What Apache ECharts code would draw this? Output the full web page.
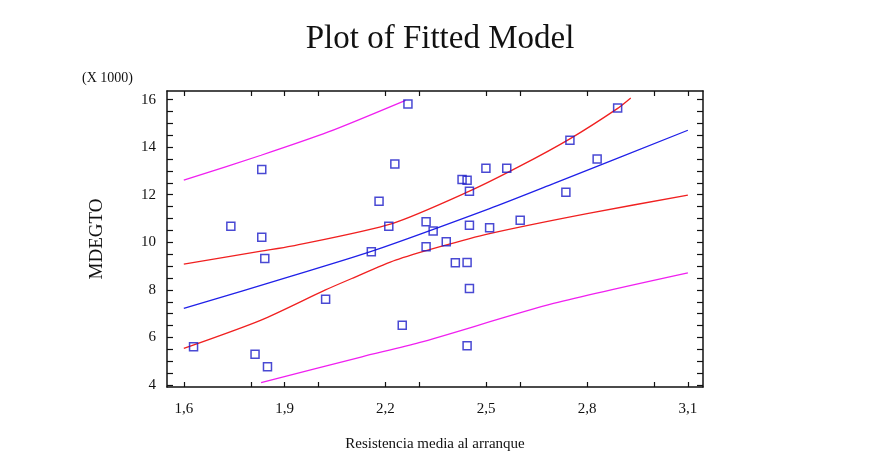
<!DOCTYPE html>
<html>
<head>
<meta charset="utf-8">
<script src="https://cdn.jsdelivr.net/npm/echarts@6/dist/echarts.min.js"></script>
<style>
html, body { margin: 0; padding: 0; background: #fff; }
#chart { width: 873px; height: 459px; }
</style>
</head>
<body>
<div id="chart"></div>
<script>
// observed points (MDEGTO in thousands)
var resistencia = [1.629, 1.740, 1.812, 1.832, 1.832, 1.841, 1.849, 2.022, 2.158, 2.181, 2.210, 2.228,
    2.250, 2.267, 2.321, 2.342, 2.321, 2.381, 2.408, 2.443, 2.450, 2.443, 2.428, 2.443, 2.450, 2.450,
    2.499, 2.510, 2.561, 2.601, 2.737, 2.749, 2.830, 2.891];
var mdegto = [5.61, 10.68, 5.30, 13.06, 10.21, 9.32, 4.77, 7.61, 9.60, 11.73, 10.68, 13.29,
    6.52, 15.81, 10.86, 10.48, 9.81, 10.02, 9.14, 9.15, 8.06, 5.65, 12.64, 12.61, 12.15, 10.72,
    13.11, 10.61, 13.11, 10.93, 12.10, 14.29, 13.50, 15.65];

// curves
var fitLine = [[1.60, 7.22], [1.92, 8.58], [2.16, 9.63], [2.51, 11.42], [2.70, 12.47], [3.10, 14.71]];
var confUpper = [[1.60, 9.08], [1.83, 9.63], [1.92, 9.84], [2.22, 10.79], [2.45, 12.15], [2.60, 13.20], [2.75, 14.36], [2.89, 15.62], [2.93, 16.07]];
var confLower = [[1.60, 5.54], [1.83, 6.73], [2.02, 7.99], [2.10, 8.48], [2.23, 9.25], [2.36, 9.81], [2.51, 10.37], [2.80, 11.21], [3.10, 11.98]];
var predUpper = [[1.60, 12.61], [1.83, 13.66], [2.03, 14.64], [2.26, 15.97]];
var predLower = [[1.83, 4.10], [2.13, 5.19], [2.30, 5.78], [2.70, 7.43], [3.10, 8.72]];

var xLabels = [1.6, 1.9, 2.2, 2.5, 2.8, 3.1];
var xTicks = [1.6, 1.8, 1.9, 2.0, 2.2, 2.3, 2.5, 2.6, 2.8, 3.0, 3.1];
var yLabels = [4, 6, 8, 10, 12, 14, 16];
var yTicks = [4, 4.5, 5, 5.5, 6, 6.5, 7, 7.5, 8, 8.5, 9, 9.5, 10, 10.5, 11, 11.5, 12, 12.5, 13, 13.5,
    14, 14.5, 15, 15.5, 16];

var points = [];
for (var i = 0; i < resistencia.length; i++) {
    points.push([resistencia[i], mdegto[i]]);
}

var font = '"Liberation Serif", "DejaVu Serif", serif';
var mychart = echarts.init(document.getElementById('chart'));

function lineSeries(data, color) {
    return {
        type: 'line',
        data: data,
        smooth: 0.25,
        showSymbol: false,
        silent: true,
        lineStyle: { color: color, width: 1.3 },
        z: 2
    };
}

function xAxisDef(pos, labels) {
    return {
        type: 'value',
        position: pos,
        min: 1.55,
        max: 3.145,
        splitLine: { show: false },
        axisLine: { show: true, onZero: false, lineStyle: { color: '#111', width: 1.5 } },
        axisTick: { show: true, inside: true, length: 5, customValues: xTicks, lineStyle: { color: '#111', width: 1.2 } },
        axisLabel: {
            show: labels,
            customValues: xLabels,
            margin: 15,
            color: '#111',
            fontFamily: font,
            fontSize: 15,
            formatter: function (v) { return v.toFixed(1).replace('.', ','); }
        },
        name: labels ? 'Resistencia media al arranque' : '',
        nameLocation: 'middle',
        nameGap: 50,
        nameTextStyle: { color: '#111', fontFamily: font, fontSize: 15 }
    };
}

function yAxisDef(pos, labels) {
    return {
        type: 'value',
        position: pos,
        min: 3.92,
        max: 16.36,
        splitLine: { show: false },
        axisLine: { show: true, onZero: false, lineStyle: { color: '#111', width: 1.5 } },
        axisTick: { show: true, inside: true, length: 6, customValues: yTicks, lineStyle: { color: '#111', width: 1.2 } },
        axisLabel: {
            show: labels,
            customValues: yLabels,
            margin: 11,
            color: '#111',
            fontFamily: font,
            fontSize: 15
        },
        name: labels ? 'MDEGTO' : '',
        nameLocation: 'middle',
        nameGap: 60,
        nameTextStyle: { color: '#111', fontFamily: font, fontSize: 19 }
    };
}

var option = {
    backgroundColor: '#fff',
    animation: false,
    title: [{
        text: 'Plot of Fitted Model',
        left: 435,
        top: 18,
        textAlign: 'center',
        textStyle: { color: '#111', fontFamily: font, fontSize: 33, fontWeight: 'normal' }
    }, {
        text: '(X 1000)',
        left: 77,
        top: 66,
        textStyle: { color: '#111', fontFamily: font, fontSize: 14, fontWeight: 'normal' }
    }],
    grid: { left: 167, right: 170, top: 91, bottom: 72 },
    xAxis: [xAxisDef('bottom', true), xAxisDef('top', false)],
    yAxis: [yAxisDef('left', true), yAxisDef('right', false)],
    series: [
        lineSeries(predUpper, '#f020f0'),
        lineSeries(predLower, '#f020f0'),
        lineSeries(confUpper, '#f02020'),
        lineSeries(confLower, '#f02020'),
        lineSeries(fitLine, '#2020e8'),
        {
            type: 'scatter',
            data: points,
            symbol: 'rect',
            symbolSize: 8,
            itemStyle: { color: 'rgba(255,255,255,0)', borderColor: '#1c1cc8', borderWidth: 1.5 },
            z: 3
        }
    ]
};
mychart.setOption(option);
</script>
</body>
</html>
